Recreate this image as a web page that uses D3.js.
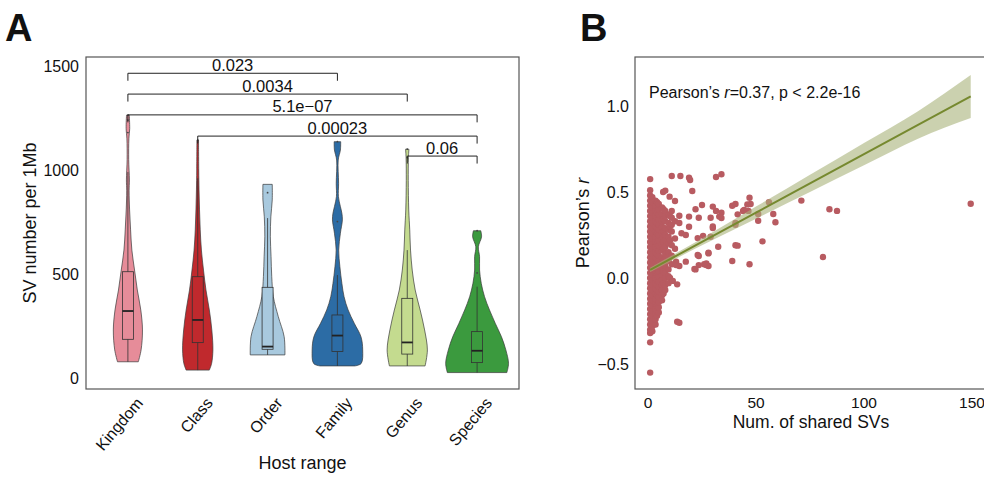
<!DOCTYPE html>
<html>
<head>
<meta charset="utf-8">
<script src="https://cdn.jsdelivr.net/npm/d3@7"></script>
<style>
  body { margin: 0; background: #fff; }
  svg { display: block; font-family: "Liberation Sans", Arial, Helvetica, sans-serif; }
</style>
</head>
<body>
<svg id="chart" width="984" height="479"></svg>
<script>
// ---- panel A data ----
const categories = ["Kingdom", "Class", "Order", "Family", "Genus", "Species"];
const fillColors = ["#e68c99", "#c0292d", "#a8c9de", "#2c6ca5", "#c4db8f", "#3b9a3e"];

// violin profiles: [SV number, density]
const kingdomDensity = [[78,10.5],[135,13.3],[231,14.7],[327,13],[423,9.5],[519,6.7],[615,4],[712,2.7],[808,1.7],[900,1.2],[952,1.5],[1050,0.8],[1150,1],[1200,1.8],[1264,1.4]];
const classDensity = [[38,11.7],[70,14],[135,15.3],[231,14.2],[327,11.7],[423,8.3],[519,5.8],[615,3.7],[712,2.5],[808,1.8],[904,1.3],[1000,1],[1144,0.8]];
const orderDensity = [[111,17.5],[199,16.7],[295,10.8],[391,5.8],[487,4.2],[583,3.5],[679,2.8],[775,3.3],[856,4.7],[931,4.7]];
const familyDensity = [[58,17.5],[70,24],[135,25.5],[199,23.7],[263,17],[327,10.8],[391,6.7],[455,4.5],[535,2.5],[615,1.3],[696,3],[760,5],[792,4.5],[824,3],[872,1],[936,1.2],[1048,0.8],[1096,3],[1136,3.3]];
const genusDensity = [[58,18],[135,20.3],[231,17.5],[327,13],[423,8],[519,5],[615,3.3],[712,2.5],[808,1.5],[950,1],[1060,1.2],[1100,1.7]];
const speciesDensity = [[26,30],[70,31.7],[135,29],[199,24.5],[263,18.3],[327,12.5],[391,7.5],[455,4.2],[519,2.5],[583,2.5],[631,1.3],[679,4.5],[708,3.7]];

// box plot statistics
const q1s = [186, 170, 138, 127, 115, 74];
const medians = [322, 279, 151, 204, 171, 131];
const q3s = [511, 487, 436, 303, 383, 223];
const whiskerLow = [78, 38, 111, 58, 58, 26];
const whiskerHigh = [990, 960, 769, 495, 615, 439];
const outliers = [[1180, 1240, 1264], [1144], [891], [752, 1136], [1060, 1100], [505, 708]];

// pairwise comparisons: [group a, group b, p label, bracket height]
const comparisons = [
  ["Kingdom", "Family", "0.023", 1465],
  ["Kingdom", "Genus", "0.0034", 1365],
  ["Kingdom", "Species", "5.1e\u221207", 1265],
  ["Class", "Species", "0.00023", 1163],
  ["Genus", "Species", "0.06", 1067]
];
const yTicksA = [0, 500, 1000, 1500];

// ---- panel B data ----
// dense core: [shared SVs, list of Pearson's r]
const coreColumns = [
  [1, [-0.32,-0.30,-0.27,-0.24,-0.21,-0.18,-0.15,-0.12,-0.09,-0.06,-0.03,0.0,0.03,0.06,0.09,0.12,0.15,0.18,0.21,0.24,0.27,0.30,0.33,0.36,0.39,0.42,0.45,0.48,0.51]],
  [2, [-0.31,-0.28,-0.25,-0.22,-0.19,-0.16,-0.13,-0.10,-0.07,-0.04,-0.01,0.02,0.05,0.08,0.11,0.14,0.17,0.20,0.23,0.26,0.29,0.32,0.35,0.38,0.41,0.44,0.47]],
  [3.5, [-0.27,-0.24,-0.21,-0.18,-0.15,-0.12,-0.09,-0.06,-0.03,0.0,0.03,0.06,0.09,0.12,0.15,0.18,0.21,0.24,0.27,0.30,0.33,0.36,0.39,0.42,0.45]],
  [4.2, [-0.22,-0.16,-0.10,-0.04,0.02,0.08,0.14,0.20,0.26,0.32,0.38,0.44]],
  [5, [-0.20,-0.17,-0.14,-0.11,-0.08,-0.05,-0.02,0.01,0.04,0.07,0.10,0.13,0.16,0.19,0.22,0.25,0.28,0.31,0.34,0.37,0.40,0.43]],
  [6.5, [-0.13,-0.10,-0.07,-0.04,-0.01,0.02,0.06,0.09,0.12,0.16,0.19,0.23,0.26,0.30,0.33,0.37,0.41]],
  [7.2, [-0.09,-0.03,0.04,0.10,0.17,0.21,0.27,0.34,0.40]],
  [8, [-0.07,-0.04,0.0,0.03,0.07,0.11,0.14,0.18,0.22,0.25,0.29,0.33,0.36,0.39]],
  [9.5, [-0.03,0.01,0.05,0.10,0.15,0.20,0.24,0.28,0.32,0.37]],
  [10.2, [0.0,0.12,0.22,0.30,0.36]],
  [11, [0.08,0.13,0.19,0.27,0.31,0.35,0.39]],
  [12.5, [0.17,0.23,0.33]]
];
const sparsePoints = [
  [1,0.575],[11,0.593],[15,0.593],[19,0.583],[19.5,0.57],[31.5,0.587],[34,0.603],
  [8,0.508],[7,0.50],[20.5,0.506],[10,0.473],[12.5,0.448],[25,0.424],[22,0.40],[30,0.415],
  [31.5,0.39],[34,0.38],[39,0.42],[40.5,0.43],[44.5,0.395],[47.5,0.43],[19,0.357],[23.5,0.35],
  [29,0.35],[34,0.349],[41.5,0.37],[14.5,0.362],[14.5,0.32],[19,0.298],[30,0.29],[15.5,0.26],
  [17.5,0.25],[23,0.232],[25.5,0.245],[29,0.24],[40.5,0.32],[40.5,0.19],[32.5,0.182],[23,0.134],
  [28,0.143],[39,0.099],[47,0.08],[13,0.095],[17.5,0.095],[27,0.085],
  [47,0.467],[46,0.428],[44,0.39],[46.5,0.39],[56,0.44],[51,0.372],[58,0.372],[51,0.333],
  [59,0.324],[71,0.45],[84,0.40],[87.5,0.39],[53,0.213],[81,0.122],[149.4,0.432],
  [22,0.05],[27,0.075],[28,0.07],[23.5,0.075],[33,0.357],[30,0.30],[40.5,0.31],[41.5,0.188],
  [28,0.147],[13,0.075],[14.5,0.07],[21.5,0.052],[26,0.08],[23.5,0.128],
  [11.5,-0.017],[13.5,-0.037],[13.5,-0.254],[14.5,-0.26],[1,-0.374],[1,-0.55]
];
// linear fit with 95% band
const fitX = [1, 25, 50, 75, 100, 125, 149.4];
const fitY = [0.047, 0.21, 0.38, 0.55, 0.72, 0.89, 1.056];
const fitLo = [0.035, 0.19, 0.345, 0.50, 0.655, 0.81, 0.93];
const fitHi = [0.06, 0.23, 0.415, 0.60, 0.785, 0.97, 1.18];
const xTicksB = [0, 50, 100, 150];
const yTicksB = [-0.5, 0, 0.5, 1.0];

const svg = d3.select("#chart");

// ================= panel A =================
const A = { left: 86, right: 519, top: 57, bottom: 389 };
const densities = [kingdomDensity, classDensity, orderDensity, familyDensity, genusDensity, speciesDensity];

const xA = d3.scalePoint().domain(categories).range([A.left, A.right]).padding(0.6);
const yA = d3.scaleLinear().domain([0, 1500]).range([378, 66]);
const maxDens = d3.max(densities, p => d3.max(p, d => d[1]));
const wA = d3.scaleLinear().domain([0, maxDens]).range([0, xA.step() * 0.45]);

const gA = svg.append("g");

categories.forEach((cat, i) => {
  const cx = xA(cat);
  const area = d3.area()
    .y(d => yA(d[0]))
    .x0(d => cx - wA(d[1]))
    .x1(d => cx + wA(d[1]))
    .curve(d3.curveCatmullRom.alpha(0.5));
  gA.append("path")
    .attr("d", area(densities[i]))
    .attr("fill", fillColors[i])
    .attr("stroke", "#3a3a3a")
    .attr("stroke-width", 0.7);

  // whisker
  gA.append("line")
    .attr("x1", cx).attr("x2", cx)
    .attr("y1", yA(whiskerLow[i])).attr("y2", yA(whiskerHigh[i]))
    .attr("stroke", "#333").attr("stroke-width", 0.8);
  // box
  const bw = 11;
  gA.append("rect")
    .attr("x", cx - bw / 2)
    .attr("y", yA(q3s[i]))
    .attr("width", bw)
    .attr("height", yA(q1s[i]) - yA(q3s[i]))
    .attr("fill", fillColors[i])
    .attr("stroke", "#333")
    .attr("stroke-width", 0.8);
  gA.append("line")
    .attr("x1", cx - bw / 2).attr("x2", cx + bw / 2)
    .attr("y1", yA(medians[i])).attr("y2", yA(medians[i]))
    .attr("stroke", "#222").attr("stroke-width", 1.8);
  gA.selectAll(null)
    .data(outliers[i])
    .join("circle")
    .attr("cx", cx)
    .attr("cy", d => yA(d))
    .attr("r", 0.9)
    .attr("fill", "#444");
});

// comparison brackets
const tip = 36;
comparisons.forEach(([a, b, label, h]) => {
  const x1 = xA(a), x2 = xA(b), y = yA(h), yt = yA(h - tip);
  gA.append("path")
    .attr("d", `M${x1},${yt}V${y}H${x2}V${yt}`)
    .attr("fill", "none")
    .attr("stroke", "#222")
    .attr("stroke-width", 1);
  gA.append("text")
    .attr("x", (x1 + x2) / 2)
    .attr("y", y - 2.5)
    .attr("text-anchor", "middle")
    .attr("font-size", "16.5px")
    .attr("fill", "#111")
    .text(label);
});

// frame
gA.append("rect")
  .attr("x", A.left).attr("y", A.top)
  .attr("width", A.right - A.left).attr("height", A.bottom - A.top)
  .attr("fill", "none").attr("stroke", "#555").attr("stroke-width", 1.2);

// axis labels
gA.selectAll(".ytA")
  .data(yTicksA)
  .join("text")
  .attr("x", 79)
  .attr("y", d => yA(d))
  .attr("dy", "0.35em")
  .attr("text-anchor", "end")
  .attr("font-size", "16px")
  .attr("fill", "#111")
  .text(d => d);

gA.selectAll(".xtA")
  .data(categories)
  .join("text")
  .attr("transform", d => `translate(${xA(d) + 7},${396}) rotate(-50)`)
  .attr("dy", "0.72em")
  .attr("text-anchor", "end")
  .attr("font-size", "16px")
  .attr("fill", "#111")
  .text(d => d);

gA.append("text")
  .attr("transform", `translate(36,${(A.top + A.bottom) / 2}) rotate(-90)`)
  .attr("text-anchor", "middle")
  .attr("font-size", "18px")
  .attr("fill", "#111")
  .text("SV number per 1Mb");

gA.append("text")
  .attr("x", (A.left + A.right) / 2)
  .attr("y", 469)
  .attr("text-anchor", "middle")
  .attr("font-size", "18px")
  .attr("fill", "#111")
  .text("Host range");

gA.append("text")
  .attr("x", 5).attr("y", 41)
  .attr("font-size", "38px")
  .attr("font-weight", "bold")
  .attr("fill", "#111")
  .text("A");

// ================= panel B =================
const B = { left: 635, right: 987, top: 57, bottom: 389 };
const xB = d3.scaleLinear().domain([0, 150]).range([648, 972]);
const yB = d3.scaleLinear().domain([-0.5, 1.0]).range([364, 106]);

const gB = svg.append("g");
gB.append("clipPath").attr("id", "clipB")
  .append("rect")
  .attr("x", B.left).attr("y", B.top)
  .attr("width", B.right - B.left).attr("height", B.bottom - B.top);

const plotB = gB.append("g").attr("clip-path", "url(#clipB)");

const points = [];
coreColumns.forEach(([x, ys]) => ys.forEach(y => points.push([x, y])));
sparsePoints.forEach(p => points.push(p));

plotB.selectAll("circle")
  .data(points)
  .join("circle")
  .attr("cx", d => xB(d[0]))
  .attr("cy", d => yB(d[1]))
  .attr("r", 3.2)
  .attr("fill", "#b85b61");

const fit = fitX.map((x, i) => ({ x, y: fitY[i], lo: fitLo[i], hi: fitHi[i] }));
plotB.append("path")
  .attr("d", d3.area().x(d => xB(d.x)).y0(d => yB(d.lo)).y1(d => yB(d.hi)).curve(d3.curveMonotoneX)(fit))
  .attr("fill", "#a8b27a")
  .attr("opacity", 0.6);
plotB.append("path")
  .attr("d", d3.line().x(d => xB(d.x)).y(d => yB(d.y))(fit))
  .attr("fill", "none")
  .attr("stroke", "#76892f")
  .attr("stroke-width", 2);

gB.append("rect")
  .attr("x", B.left).attr("y", B.top)
  .attr("width", B.right - B.left).attr("height", B.bottom - B.top)
  .attr("fill", "none").attr("stroke", "#555").attr("stroke-width", 1.2);

const ann = gB.append("text")
  .attr("x", 649).attr("y", 98)
  .attr("font-size", "16px")
  .attr("fill", "#111");
ann.append("tspan").text("Pearson\u2019s ");
ann.append("tspan").attr("font-style", "italic").text("r");
ann.append("tspan").text("=0.37, p < 2.2e-16");

gB.selectAll(".xtB")
  .data(xTicksB)
  .join("text")
  .attr("x", d => xB(d))
  .attr("y", 408)
  .attr("text-anchor", "middle")
  .attr("font-size", "15.5px")
  .attr("fill", "#111")
  .text(d => d);

gB.selectAll(".ytB")
  .data(yTicksB)
  .join("text")
  .attr("x", 629)
  .attr("y", d => yB(d))
  .attr("dy", "0.35em")
  .attr("text-anchor", "end")
  .attr("font-size", "16px")
  .attr("fill", "#111")
  .text(d => d3.format(".1f")(d));

const yt = gB.append("text")
  .attr("transform", `translate(589,${(B.top + B.bottom) / 2}) rotate(-90)`)
  .attr("text-anchor", "middle")
  .attr("font-size", "18px")
  .attr("fill", "#111");
yt.append("tspan").text("Pearson\u2019s ");
yt.append("tspan").attr("font-style", "italic").text("r");

gB.append("text")
  .attr("x", (B.left + B.right) / 2)
  .attr("y", 428)
  .attr("text-anchor", "middle")
  .attr("font-size", "17.5px")
  .attr("fill", "#111")
  .text("Num. of shared SVs");

gB.append("text")
  .attr("x", 580).attr("y", 41)
  .attr("font-size", "38px")
  .attr("font-weight", "bold")
  .attr("fill", "#111")
  .text("B");
</script>
</body>
</html>
